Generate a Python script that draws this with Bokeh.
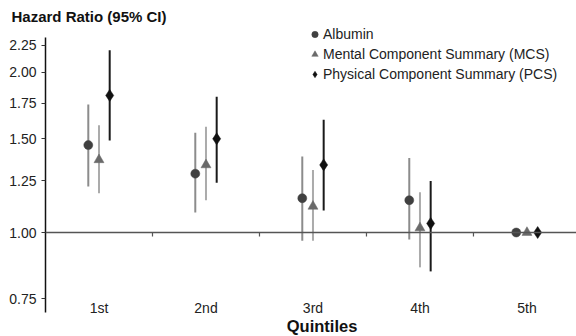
import numpy as np
from bokeh.plotting import figure
from bokeh.models import (Range1d, FixedTicker, PrintfTickFormatter, Span,
                          Legend, LegendItem, ColumnDataSource)
from bokeh.core.properties import value
from bokeh.embed import file_html
from bokeh.resources import INLINE

# ---- data ----
quintiles = ["1st", "2nd", "3rd", "4th", "5th"]
albumin_hr = [1.46, 1.29, 1.16, 1.15, 1.00]
albumin_lo = [1.22, 1.09, 0.965, 0.97, 1.00]
albumin_hi = [1.74, 1.54, 1.39, 1.38, 1.00]
mcs_hr = [1.37, 1.34, 1.12, 1.02, 1.00]
mcs_lo = [1.185, 1.15, 0.965, 0.86, 1.00]
mcs_hi = [1.59, 1.58, 1.31, 1.19, 1.00]
pcs_hr = [1.81, 1.50, 1.34, 1.04, 1.00]
pcs_lo = [1.49, 1.24, 1.10, 0.845, 1.00]
pcs_hi = [2.20, 1.80, 1.63, 1.25, 1.00]
y_ticks = [0.75, 1.00, 1.25, 1.50, 1.75, 2.00, 2.25]

FONT = "Liberation Sans"
n = len(quintiles)
centers = np.arange(n) + 0.5
boundaries = np.arange(1, n)

p = figure(width=576, height=336, y_axis_type="log", x_axis_location=None,
           x_range=Range1d(0, 4.963), y_range=Range1d(0.6375, 2.4394),
           output_backend="svg", toolbar_location=None,
           min_border_left=45, min_border_right=0,
           min_border_top=26, min_border_bottom=0)
p.background_fill_color = "white"
p.border_fill_color = "white"
p.outline_line_color = None
p.xgrid.visible = False
p.ygrid.visible = False

# title
p.title.text = "Hazard Ratio (95% CI)"
p.title.text_font = FONT
p.title.text_font_size = "15px"
p.title.text_font_style = "bold"
p.title.text_color = "#111111"
p.title.align = "left"
p.title.offset = -34
p.title.standoff = 4

# y axis (line limited to the plotted span)
ya = p.yaxis[0]
ya.bounds = (0.707, 2.326)
ya.ticker = FixedTicker(ticks=y_ticks, minor_ticks=[])
ya.formatter = PrintfTickFormatter(format="%.2f")
ya.axis_line_color = "#111111"
ya.axis_line_width = 1.5
ya.major_tick_in = 0
ya.major_tick_out = 4
ya.major_tick_line_color = "#333333"
ya.minor_tick_line_color = None
ya.major_label_text_font = FONT
ya.major_label_text_font_size = "14px"
ya.major_label_text_color = "#222222"
ya.major_label_standoff = 5

# reference line at HR = 1 with category separators
p.add_layout(Span(location=1.0, dimension="width", line_color="#555555", line_width=1.5))
p.segment(x0=boundaries, x1=boundaries, y0=[1.0] * len(boundaries),
          y1=[0.983] * len(boundaries), line_color="#555555", line_width=1.2)

# category labels and axis title
p.text(x=centers, y=[0.721] * n, text=quintiles, text_font=value(FONT),
       text_font_size="14px", text_color="#222222",
       text_align="center", text_baseline="middle")
p.text(x=[2.585], y=[0.666], text=["Quintiles"], text_font=value(FONT),
       text_font_size="16.5px", text_font_style="bold", text_color="#111111",
       text_align="center", text_baseline="middle")

series = [
    ("Albumin", albumin_hr, albumin_lo, albumin_hi, -0.1, "circle", 9, "#404040", "#8c8c8c"),
    ("Mental Component Summary (MCS)", mcs_hr, mcs_lo, mcs_hi, 0.0, "triangle", 10, "#6a6a6a", "#ababab"),
    ("Physical Component Summary (PCS)", pcs_hr, pcs_lo, pcs_hi, 0.1, "diamond", 12, "#111111", "#1a1a1a"),
]

items = []
for name, hr, lo, hi, off, marker, size, fill, ci_col in series:
    src = ColumnDataSource(dict(x=centers + off, hr=hr, lo=lo, hi=hi))
    p.segment(x0="x", x1="x", y0="lo", y1="hi", source=src,
              line_color=ci_col, line_width=2)
    r = p.scatter(x="x", y="hr", source=src, marker=marker, size=size,
                  fill_color=fill, line_color=fill, line_width=0.5)
    items.append(LegendItem(label=name, renderers=[r]))

legend = Legend(items=items, location=(261, 254), orientation="vertical",
                glyph_width=17, glyph_height=16, label_height=16,
                label_standoff=-3, spacing=4, padding=0, margin=0,
                label_text_font=FONT, label_text_font_size="14px",
                label_text_color="#222222",
                background_fill_alpha=0, border_line_color=None)
p.add_layout(legend, "center")

open("out.html", "w").write(file_html(p, INLINE))
